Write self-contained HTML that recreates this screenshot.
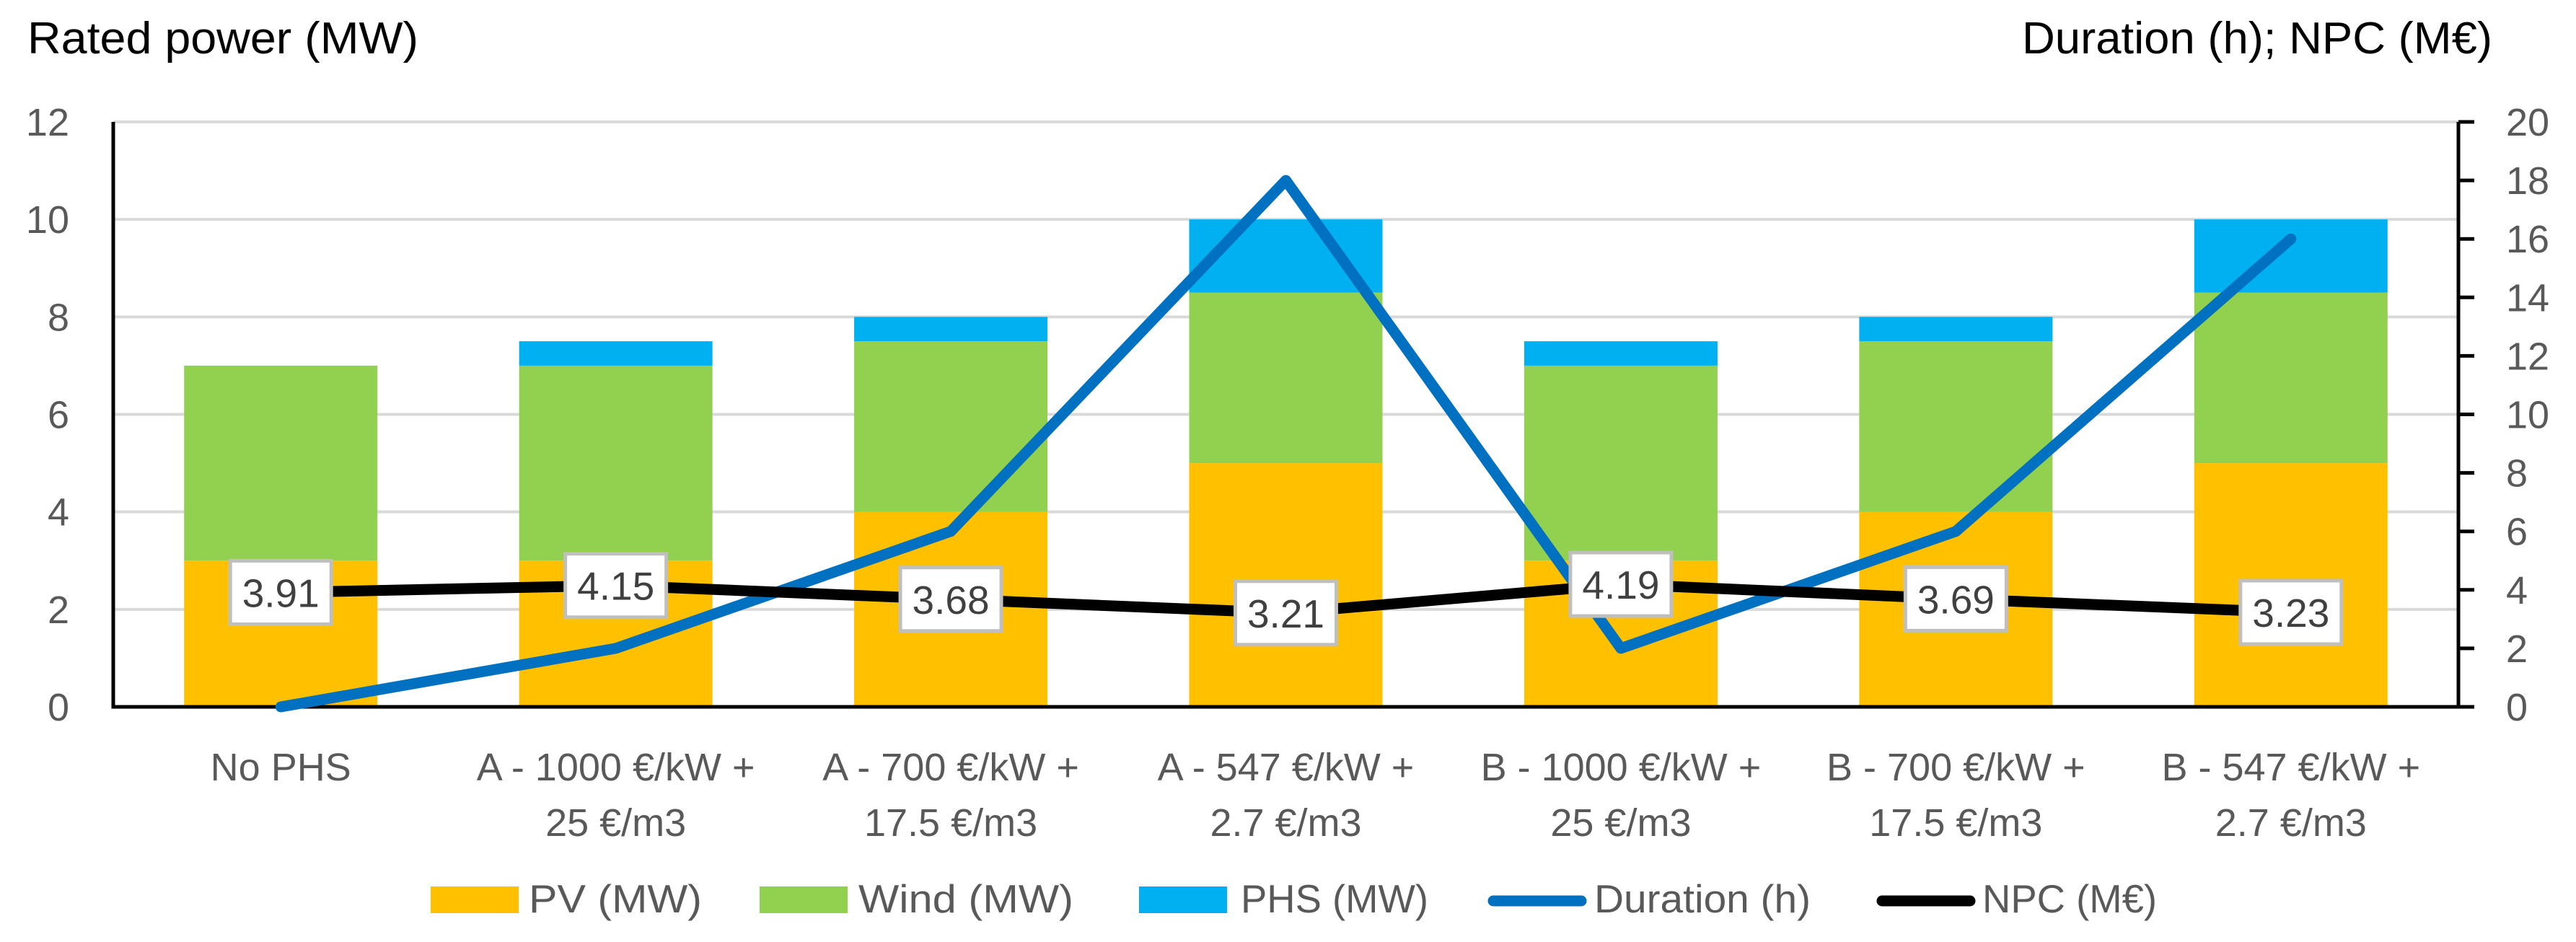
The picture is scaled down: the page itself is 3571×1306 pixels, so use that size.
<!DOCTYPE html>
<html><head><meta charset="utf-8"><style>
html,body{margin:0;padding:0;background:#fff}
svg{display:block;font-family:"Liberation Sans",sans-serif}
</style></head><body>
<svg id="chart" width="3571" height="1306" viewBox="0 0 3571 1306" xmlns="http://www.w3.org/2000/svg">
<g id="grid"></g>
<g id="bars"></g>
<g id="axes"></g>
<g id="lines"></g>
<g id="labels"></g>
<text x="38" y="74" font-size="62" fill="#000" textLength="542" lengthAdjust="spacingAndGlyphs">Rated power (MW)</text>
<text x="2803" y="74" font-size="62" fill="#000" textLength="652" lengthAdjust="spacingAndGlyphs">Duration (h); NPC (M€)</text>
<g id="legend">
  <rect x="597" y="1229" width="122" height="37" fill="#FFC000"/>
  <text x="733" y="1265" font-size="55" fill="#595959" textLength="240" lengthAdjust="spacingAndGlyphs">PV (MW)</text>
  <rect x="1053" y="1229" width="122" height="37" fill="#92D050"/>
  <text x="1190" y="1265" font-size="55" fill="#595959" textLength="298" lengthAdjust="spacingAndGlyphs">Wind (MW)</text>
  <rect x="1579" y="1229" width="122" height="37" fill="#00B0F0"/>
  <text x="1720" y="1265" font-size="55" fill="#595959" textLength="260" lengthAdjust="spacingAndGlyphs">PHS (MW)</text>
  <line x1="2070" y1="1249" x2="2192" y2="1249" stroke="#0070C0" stroke-width="15" stroke-linecap="round"/>
  <text x="2210" y="1265" font-size="55" fill="#595959" textLength="300" lengthAdjust="spacingAndGlyphs">Duration (h)</text>
  <line x1="2609" y1="1249" x2="2731" y2="1249" stroke="#000" stroke-width="15" stroke-linecap="round"/>
  <text x="2748" y="1265" font-size="55" fill="#595959" textLength="242" lengthAdjust="spacingAndGlyphs">NPC (M€)</text>
</g>
</svg>
<script>
const categories1 = ["No PHS","A - 1000 €/kW +","A - 700 €/kW +","A - 547 €/kW +","B - 1000 €/kW +","B - 700 €/kW +","B - 547 €/kW +"];
const categories2 = ["","25 €/m3","17.5 €/m3","2.7 €/m3","25 €/m3","17.5 €/m3","2.7 €/m3"];
const pv = [3,3,4,5,3,4,5];
const wind = [4,4,3.5,3.5,4,3.5,3.5];
const phs = [0,0.5,0.5,1.5,0.5,0.5,1.5];
const duration = [0,2,6,18,2,6,16];
const npc = [3.91,4.15,3.68,3.21,4.19,3.69,3.23];
const leftTicks = [0,2,4,6,8,10,12];
const rightTicks = [0,2,4,6,8,10,12,14,16,18,20];

const NS="http://www.w3.org/2000/svg";
const L=157,R=3408,T=169,B=980;
const n=categories1.length, band=(R-L)/n, bw=268;
const xc=i=>L+band*(i+0.5);
const yL=v=>B-(B-T)*v/12;
const yR=v=>B-(B-T)*v/20;
function mk(tag,attrs,parent){const e=document.createElementNS(NS,tag);for(const k in attrs)e.setAttribute(k,attrs[k]);parent.appendChild(e);return e;}
const grid=document.getElementById('grid'),bars=document.getElementById('bars'),axes=document.getElementById('axes'),lines=document.getElementById('lines'),labels=document.getElementById('labels');

leftTicks.forEach(t=>{
  if(t>0){const g=mk('line',{x1:L,x2:R,y1:yL(t),y2:yL(t),stroke:'#d9d9d9','stroke-width':4},grid);
  
  }
  const tx=mk('text',{x:96,y:yL(t)+19,'font-size':54,fill:'#595959','text-anchor':'end'},axes);
  tx.textContent=t;
  
  
});
rightTicks.forEach(t=>{
  const tk=mk('line',{x1:R,x2:R+22,y1:yR(t),y2:yR(t),stroke:'#000','stroke-width':5},axes);
  
  
  const tx=mk('text',{x:3474,y:yR(t)+19,'font-size':54,fill:'#595959'},axes);
  tx.textContent=t;
  
  
});

for(let i=0;i<n;i++){
  const x=xc(i)-bw/2;
  let base=0;
  [[pv,'#FFC000','bar-pv'],[wind,'#92D050','bar-wind'],[phs,'#00B0F0','bar-phs']].forEach(([arr,c,nm])=>{
    const v=arr[i]; if(v<=0){return;}
    const r=mk('rect',{x:x,y:yL(base+v),width:bw,height:yL(base)-yL(base+v),fill:c},bars);
    
    
    base+=v;
  });
  const c1=mk('text',{x:xc(i),y:1082,'font-size':54,fill:'#595959','text-anchor':'middle'},axes);
  c1.textContent=categories1[i];
  
  
  if(categories2[i]){
    const c2=mk('text',{x:xc(i),y:1159,'font-size':54,fill:'#595959','text-anchor':'middle'},axes);
    c2.textContent=categories2[i];
    
    
  }
}
const ax1=mk('polyline',{points:`${L},${T} ${L},${B} ${R},${B} ${R},${T}`,fill:'none',stroke:'#000','stroke-width':5},axes);



const dur=mk('polyline',{points:duration.map((v,i)=>`${xc(i)},${yR(v)}`).join(' '),fill:'none',stroke:'#0070C0','stroke-width':15,'stroke-linecap':'round','stroke-linejoin':'round'},lines);


const np=mk('polyline',{points:npc.map((v,i)=>`${xc(i)},${yR(v)}`).join(' '),fill:'none',stroke:'#000','stroke-width':15,'stroke-linecap':'round','stroke-linejoin':'round'},lines);



npc.forEach((v,i)=>{
  const bx=mk('rect',{x:xc(i)-70,y:yR(v)-44,width:140,height:88,fill:'#fff',stroke:'#bfbfbf','stroke-width':5},labels);
  
  
  const t=mk('text',{x:xc(i),y:yR(v)+20,'font-size':55,fill:'#404040','text-anchor':'middle'},labels);
  t.textContent=v.toFixed(2);
  
  
});
</script>
</body></html>
